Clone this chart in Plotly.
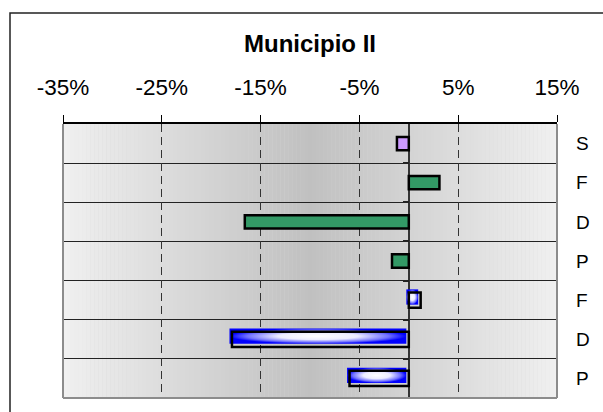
import plotly.graph_objects as go

# ---------------- data ----------------
row_labels = ['S', 'F', 'D', 'P', 'F', 'D', 'P']
s_rows = [0]
s_values = [-1.2]
green_rows = [1, 2, 3]
green_values = [3.1, -16.6, -1.7]
blue_rows = [4, 5, 6]
blue_values = [1.2, -17.9, -6.0]
x_tick_values = [-35, -25, -15, -5, 5, 15]
x_tick_labels = ['-35%', '-25%', '-15%', '-5%', '5%', '15%']
title_text = 'Municipio II'

# ---------------- style ----------------
FONT = 'Liberation Sans, Arial, sans-serif'
X_MIN, X_MAX = -35, 15
N_ROWS = len(row_labels)
Y_RANGE = [N_ROWS - 0.5, -0.5]
W, H = 603, 412
ML, MR, MT, MB = 63, 46, 124, 14
PW, PH = W - ML - MR, H - MT - MB

fig = go.Figure()

# gradient fills of the blue series (offset like the original rendering)
BAR_W = 0.34
BLUE_W = 0.39
SHIFT_X = -0.25   # percent units
SHIFT_Y = -0.08   # row units (up)
for r, v in zip(blue_rows, blue_values):
    x0, x1 = min(v, 0) + SHIFT_X, max(v, 0) + SHIFT_X
    y0, y1 = r - BLUE_W / 2 + SHIFT_Y, r + BLUE_W / 2 + SHIFT_Y
    fig.add_trace(go.Scatter(
        x=[x0, x1, x1, x0, x0], y=[y0, y0, y1, y1, y0],
        mode='lines', fill='toself', line=dict(width=0),
        fillgradient=dict(type='radial',
                          colorscale=[[0, '#ffffff'], [0.45, '#ececff'],
                                      [0.8, '#7070ff'], [1, '#0000ff']]),
        hoverinfo='skip', showlegend=False, xaxis='x', yaxis='y'))

# bars (on the overlay axis so they sit above the gradient fills)
fig.add_trace(go.Bar(x=s_values, y=s_rows, orientation='h', width=BAR_W,
                     marker=dict(color='#cc99ff', line=dict(color='black', width=2.5)),
                     xaxis='x', yaxis='y2', showlegend=False))
fig.add_trace(go.Bar(x=green_values, y=green_rows, orientation='h', width=BAR_W,
                     marker=dict(color='#339966', line=dict(color='black', width=2.5)),
                     xaxis='x', yaxis='y2', showlegend=False))
fig.add_trace(go.Bar(x=blue_values, y=blue_rows, orientation='h', width=BLUE_W,
                     marker=dict(color='rgba(0,0,0,0)', line=dict(color='black', width=2.5)),
                     xaxis='x', yaxis='y2', showlegend=False))

# background gradient (light edges, darker centre) made of thin strips
shapes = []
N_STRIPS = 125
step = (X_MAX - X_MIN) / N_STRIPS
mid = (X_MIN + X_MAX) / 2
half = (X_MAX - X_MIN) / 2
for i in range(N_STRIPS):
    a = X_MIN + i * step
    c = a + step / 2
    t = abs(c - mid) / half
    g = int(round(0xc0 + (0xf0 - 0xc0) * t))
    shapes.append(dict(type='rect', xref='x', yref='paper', x0=a, x1=a + step * 1.02,
                       y0=0, y1=1, fillcolor=f'rgb({g},{g},{g})', line=dict(width=0),
                       layer='below'))

# plot-area border (grey) on left, right, bottom
for (x0, y0, x1, y1) in [(0, 0, 0, 1), (1, 0, 1, 1), (0, 0, 1, 0)]:
    shapes.append(dict(type='line', xref='paper', yref='paper', x0=x0, y0=y0, x1=x1, y1=y1,
                       line=dict(color='#8c8c8c', width=2), layer='above'))

# outer chart frame
fx0 = (10 - ML) / PW
fx1 = (W + 20 - ML) / PW
fy1 = 1 + (MT - 13) / PH
fy0 = -(MB + 20) / PH
shapes.append(dict(type='rect', xref='paper', yref='paper', x0=fx0, x1=fx1, y0=fy0, y1=fy1,
                   line=dict(color='#222222', width=1.5), fillcolor='rgba(0,0,0,0)',
                   layer='above'))

boundaries = [r + 0.5 for r in range(N_ROWS - 1)]

fig.update_layout(
    width=W, height=H,
    margin=dict(l=ML, r=MR, t=MT, b=MB, pad=0),
    paper_bgcolor='white', plot_bgcolor='#d8d8d8',
    barmode='overlay',
    showlegend=False,
    font=dict(family=FONT, color='black'),
    title=dict(text=title_text, x=0.5, xref='paper', xanchor='center',
               y=1 - 43.5 / H, yref='container', yanchor='middle',
               font=dict(family=FONT, size=24, color='black', weight='bold')),
    xaxis=dict(range=[X_MIN, X_MAX], side='top', tickmode='array',
               tickvals=x_tick_values, ticktext=x_tick_labels,
               ticks='outside', ticklen=7, tickwidth=1, tickcolor='black',
               showline=True, linecolor='black', linewidth=1.5,
               showgrid=True, gridcolor='#333333', gridwidth=1, griddash='8px,5px',
               zeroline=True, zerolinecolor='#333333', zerolinewidth=1.5,
               ticklabelstandoff=11,
               tickfont=dict(family=FONT, size=22.5, color='black'),
               automargin=False, fixedrange=True),
    yaxis=dict(range=Y_RANGE, side='right', tickmode='array',
               tickvals=list(range(N_ROWS)), ticktext=row_labels,
               ticks='', showgrid=False, zeroline=False, showline=False,
               ticklabelstandoff=18,
               tickfont=dict(family=FONT, size=19, color='black'),
               minor=dict(tickmode='array', tickvals=boundaries, showgrid=True,
                          gridcolor='#222222', gridwidth=1, ticks=''),
               automargin=False, fixedrange=True),
    yaxis2=dict(range=Y_RANGE, overlaying='y', anchor='free',
                position=(0 - X_MIN) / (X_MAX - X_MIN), side='left',
                tickmode='array', tickvals=boundaries, ticks='outside', ticklen=6,
                tickwidth=2, tickcolor='#222222', showticklabels=False,
                showgrid=False, zeroline=False, showline=False,
                automargin=False, fixedrange=True),
    shapes=shapes,
)

fig.write_html('out.html', config={'displayModeBar': False},
               post_script="document.body.style.margin='0';"
                           "document.body.style.overflow='hidden';")
